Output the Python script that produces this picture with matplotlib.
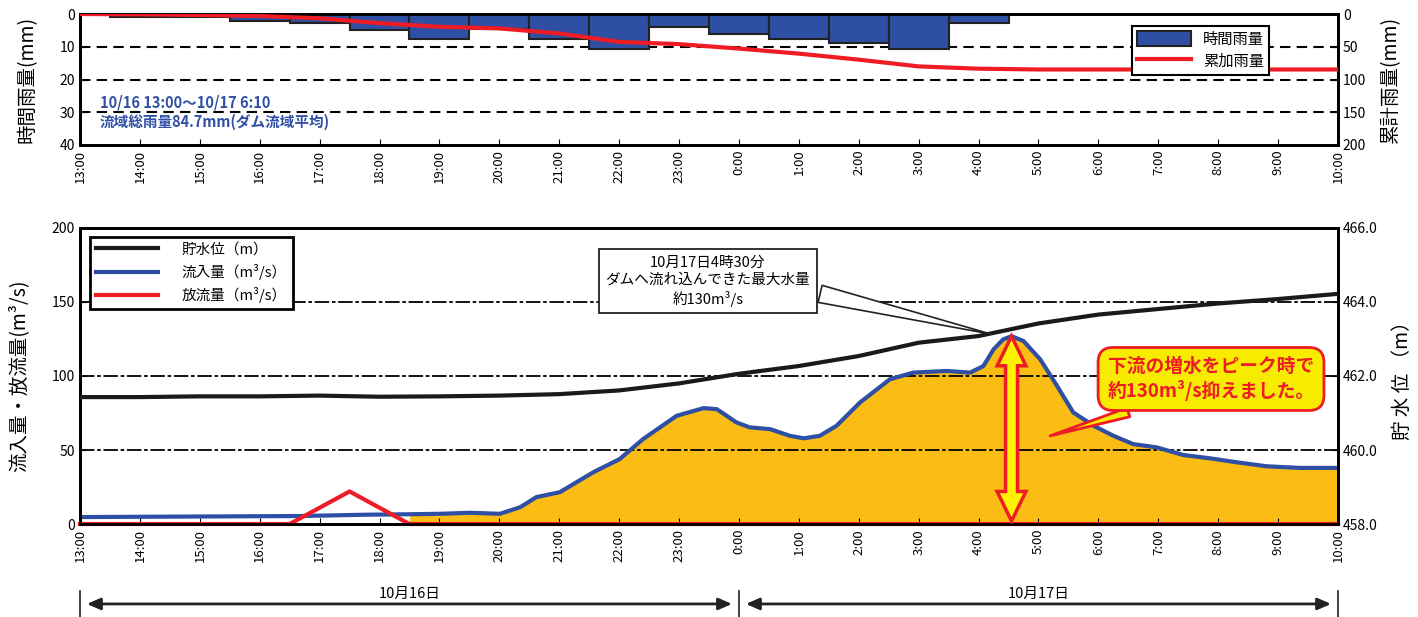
import numpy as np
import matplotlib
matplotlib.use("Agg")
import matplotlib.pyplot as plt
from matplotlib.patches import Polygon

plt.rcParams['font.family'] = ['Noto Sans CJK JP', 'DejaVu Sans']

# x axis: hours since 10/16 13:00
TICK_LABELS = ["13:00", "14:00", "15:00", "16:00", "17:00", "18:00", "19:00",
               "20:00", "21:00", "22:00", "23:00", "0:00", "1:00", "2:00",
               "3:00", "4:00", "5:00", "6:00", "7:00", "8:00", "9:00", "10:00"]

# hourly rainfall (mm), bars centred on each hour
rain_t = [1, 2, 3, 4, 5, 6, 7, 8, 9, 10, 11, 12, 13, 14, 15]
rain_mm = [1.0, 1.0, 2.0, 2.8, 4.9, 7.7, 4.6, 7.6, 10.7, 3.9, 6.2, 7.7, 9.0, 10.7, 2.6]

# cumulative rainfall (mm)
cum_t = [0, 1, 2, 3, 4, 5, 6, 7, 8, 9, 10, 11, 12, 13, 14, 15, 16, 17, 18, 19, 20, 21]
cum_mm = [0, 0.5, 1.5, 3.0, 6.6, 14.0, 19.5, 22.0, 29.7, 42.6, 46.0, 52.8, 60.5,
          69.7, 80.0, 83.5, 84.7, 84.7, 84.7, 84.7, 84.7, 84.7]

# inflow (m3/s)
in_t = [0, 3.67, 4.79, 5.5, 6.01, 6.51, 7.01, 7.35, 7.62, 8.01, 8.57, 9.01, 9.40,
        9.96, 10.41, 10.63, 10.96, 11.18, 11.52, 11.85, 12.08, 12.35, 12.63, 13.02,
        13.52, 13.91, 14.47, 14.86, 15.08, 15.25, 15.41, 15.55, 15.75, 16.03, 16.31,
        16.58, 16.92, 17.25, 17.58, 17.97, 18.42, 18.86, 19.31, 19.81, 20.37, 21]
inflow = [4.7, 5.4, 6.3, 6.6, 6.9, 7.6, 6.9, 11.4, 18.2, 21.5, 35.0, 43.9, 57.4,
          73.1, 78.3, 77.6, 68.6, 65.3, 64.1, 59.6, 57.9, 59.6, 66.4, 82.1,
          97.8, 102.3, 103.4, 102.3, 106.7, 118.0, 124.7, 126.9, 123.6, 111.2, 93.3,
          75.4, 66.4, 59.6, 54.0, 51.8, 46.6, 44.4, 41.7, 39.0, 37.9, 37.9]

# outflow (m3/s)
out_t = [0, 3.5, 4.5, 5.5, 21]
outflow = [0, 0, 22, 0, 0]

# reservoir water level (m)
lvl_t = [0, 1, 2, 3, 4, 5, 6, 7, 8, 9, 10, 11, 12, 13, 14, 15, 16, 17, 18, 19, 20, 21]
level = [461.43, 461.43, 461.45, 461.45, 461.47, 461.44, 461.45, 461.47, 461.51,
         461.61, 461.80, 462.06, 462.27, 462.54, 462.90, 463.08, 463.42, 463.66,
         463.81, 463.96, 464.08, 464.22]

BLUE = '#2E4FA3'
RED = '#EE1C25'
ORANGE = '#FBBC13'

fig = plt.figure(figsize=(14.18, 6.17), dpi=100)
ax1 = fig.add_axes([0.0564, 0.765, 0.8872, 0.2123])
ax2 = fig.add_axes([0.0564, 0.1507, 0.8872, 0.4798])

xt = np.arange(len(TICK_LABELS))

# ---------- top chart: rainfall ----------
ax1.bar(rain_t, rain_mm, width=1.0, color=BLUE, edgecolor='#222222', linewidth=1.5,
        label='時間雨量', zorder=3)
ax1.set_ylim(40, 0)
ax1.set_yticks([0, 10, 20, 30, 40])
for v in [10, 20, 30]:
    ax1.axhline(v, color='black', lw=1.5, ls=(0, (5, 3)), zorder=1)
ax1.set_xlim(0, 21)
ax1.set_xticks(xt)
ax1.set_xticklabels(TICK_LABELS, rotation=90, fontsize=9.5)
ax1.set_ylabel('時間雨量(mm)', fontsize=14, labelpad=16)
ax1.text(0.33, 27, '10/16 13:00～10/17 6:10', color=BLUE, fontsize=10.5,
         fontweight='bold', va='center')
ax1.text(0.33, 33, '流域総雨量84.7mm(ダム流域平均)', color=BLUE, fontsize=10.5,
         fontweight='bold', va='center')

ax1r = ax1.twinx()
ax1r.plot(cum_t, cum_mm, color=RED, lw=3, label='累加雨量', zorder=4)
ax1r.set_ylim(200, 0)
ax1r.set_yticks([0, 50, 100, 150, 200])
ax1r.set_ylabel('累計雨量(mm)', fontsize=14, labelpad=10)

h1, l1 = ax1.get_legend_handles_labels()
h2, l2 = ax1r.get_legend_handles_labels()
leg = ax1r.legend(h1 + h2, l1 + l2, loc='upper left', bbox_to_anchor=(0.83, 0.97),
                  fontsize=11, fancybox=False, framealpha=1, edgecolor='black',
                  handlelength=3.5, handleheight=1.1, borderpad=0.35, labelspacing=0.3)
leg.get_frame().set_linewidth(1.5)

for a in (ax1, ax1r):
    for s in a.spines.values():
        s.set_linewidth(2)
    a.tick_params(axis='y', labelsize=10, direction='in', length=4)
    a.tick_params(axis='x', direction='in', length=4)

# ---------- bottom chart: inflow / outflow / level ----------
in_t_arr = np.array(in_t)
ax2.fill_between(in_t, 0, inflow, where=in_t_arr >= 5.5, color=ORANGE, lw=0, zorder=1)
ax2.plot(in_t, inflow, color=BLUE, lw=3, label='流入量（m³/s）', zorder=3)
ax2.plot(out_t, outflow, color=RED, lw=3, label='放流量（m³/s）', zorder=4, clip_on=False)
for v in [50, 100, 150]:
    ax2.axhline(v, color='black', lw=1.3, ls=(0, (8, 1.5, 2, 1.5)), zorder=2)
ax2.set_ylim(0, 200)
ax2.set_yticks([0, 50, 100, 150, 200])
ax2.set_xlim(0, 21)
ax2.set_xticks(xt)
ax2.set_xticklabels(TICK_LABELS, rotation=90, fontsize=9.5)
ax2.set_ylabel('流入量・放流量(m³/s)', fontsize=14, labelpad=16)

ax2r = ax2.twinx()
ax2r.plot(lvl_t, level, color='#1a1a1a', lw=3, label='貯水位（m）', zorder=3)
ax2r.set_ylim(458, 466)
ax2r.set_yticks([458, 460, 462, 464, 466])
ax2r.set_yticklabels(['458.0', '460.0', '462.0', '464.0', '466.0'])
ax2r.set_ylabel('貯 水 位 （m）', fontsize=14, labelpad=10)

hl, ll = ax2r.get_legend_handles_labels()
hb, lb = ax2.get_legend_handles_labels()
leg2 = ax2r.legend(hl + hb, ll + lb, loc='upper left', bbox_to_anchor=(0.002, 0.995),
                   fontsize=10.5, fancybox=False, framealpha=1, edgecolor='black',
                   handlelength=4.3, handletextpad=1.6, borderpad=0.4, labelspacing=0.5)
leg2.get_frame().set_linewidth(2)
leg2.set_zorder(10)

for a in (ax2, ax2r):
    for s in a.spines.values():
        s.set_linewidth(2)
    a.tick_params(axis='y', labelsize=10, direction='in', length=4)
    a.tick_params(axis='x', direction='in', length=4)

# peak arrow (double headed, yellow with red edge)
ipk = int(np.argmax(inflow))
tp, qp = in_t[ipk], inflow[ipk]
hw, sw, hl_ = 0.24, 0.1, 20
pts = [(tp, qp), (tp + hw, qp - hl_), (tp + sw, qp - hl_), (tp + sw, 2 + hl_),
       (tp + hw, 2 + hl_), (tp, 2), (tp - hw, 2 + hl_), (tp - sw, 2 + hl_),
       (tp - sw, qp - hl_), (tp - hw, qp - hl_)]
ax2r.add_patch(Polygon(pts, closed=True, facecolor='#FFF200', edgecolor=RED, lw=2.5,
                       transform=ax2.transData, zorder=6))

# callout: maximum inflow
ax2r.annotate('10月17日4時30分\nダムへ流れ込んできた最大水量\n約130m³/s',
              xy=(tp - 0.3, qp + 1), xycoords=ax2.transData,
              xytext=(10.48, 164), textcoords=ax2.transData,
              ha='center', va='center', fontsize=10.5, linespacing=1.3,
              bbox=dict(boxstyle='square,pad=0.45', fc='white', ec='#222222', lw=1.3),
              arrowprops=dict(arrowstyle='wedge,tail_width=1.2', fc='white',
                              ec='#222222', lw=1.2, relpos=(1.0, 0.3)),
              zorder=7)

# callout: peak cut
ax2r.annotate('下流の増水をピーク時で\n約130m³/s抑えました。',
              xy=(16.15, 59), xycoords=ax2.transData,
              xytext=(18.88, 98), textcoords=ax2.transData,
              ha='center', va='center', fontsize=13.5, fontweight='bold', color=RED,
              linespacing=1.25,
              bbox=dict(boxstyle='round,pad=0.5,rounding_size=0.8', fc='#F7EC00',
                        ec=RED, lw=2),
              arrowprops=dict(arrowstyle='wedge,tail_width=0.5', fc='#F7EC00',
                              ec=RED, lw=2, relpos=(0.28, 0.0)),
              zorder=7)

# date spans under the bottom chart
ytr = ax2.get_xaxis_transform()
for x0, x1, lab in [(0, 11, '10月16日'), (11, 21, '10月17日')]:
    ax2.annotate('', xy=(x0, -0.27), xytext=(x1, -0.27), xycoords=ytr,
                 arrowprops=dict(arrowstyle='<|-|>,head_length=0.8,head_width=0.35',
                                 color='#222222', lw=2, shrinkA=5, shrinkB=5),
                 annotation_clip=False)
    ax2.text((x0 + x1) / 2, -0.235, lab, transform=ytr, ha='center', va='center',
             fontsize=10.5)
for xv in [0, 11, 21]:
    ax2.plot([xv, xv], [-0.225, -0.32], transform=ytr, color='#222222', lw=1.2,
             clip_on=False)

fig.savefig('out.png', dpi=100)
